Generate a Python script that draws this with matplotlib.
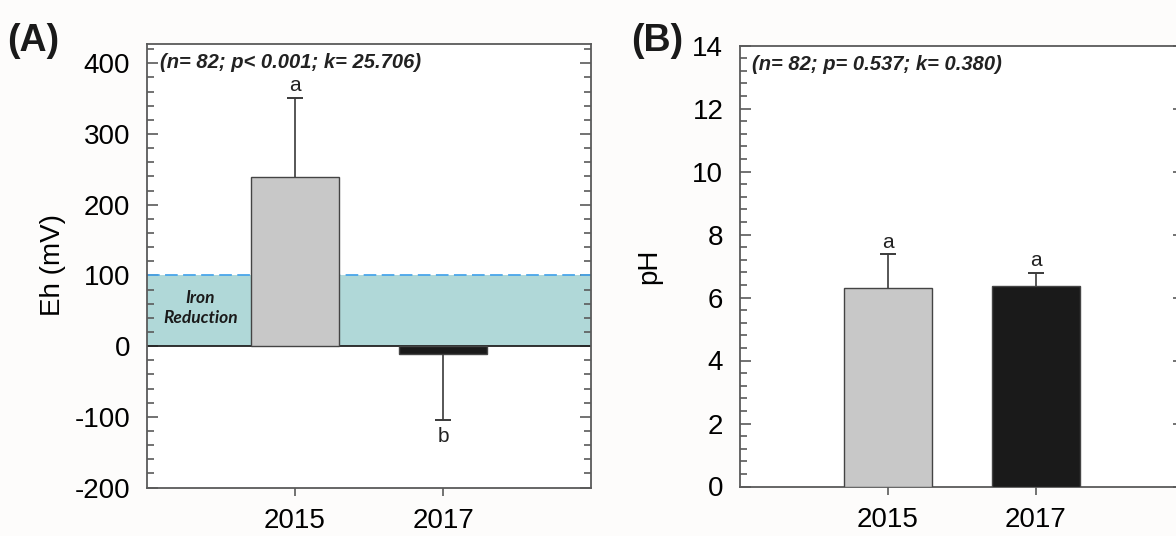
import matplotlib
matplotlib.use("Agg")
from matplotlib import pyplot as plt
from matplotlib.ticker import MultipleLocator

plt.rcParams["font.family"] = ["Liberation Sans", "DejaVu Sans"]
plt.rcParams["axes.unicode_minus"] = False

years = ["2015", "2017"]
bar_colors = ["#c8c8c8", "#1a1a1a"]

# Eh (mV) means and standard deviations
eh_mean = [239, -11]
eh_sd = [112, 94]
eh_letters = ["a", "b"]
eh_stats = "(n= 82; p< 0.001; k= 25.706)"

# pH means and standard deviations
ph_mean = [6.29, 6.38]
ph_sd = [1.08, 0.39]
ph_letters = ["a", "a"]
ph_stats = "(n= 82; p= 0.537; k= 0.380)"

iron_zone = (0, 100)

SPINE = "#5a5a5a"
BG = "#fdfcfb"


def style_axes(ax, major, minor):
    for s in ax.spines.values():
        s.set_color(SPINE)
        s.set_linewidth(1.3)
    ax.yaxis.set_major_locator(MultipleLocator(major))
    ax.yaxis.set_minor_locator(MultipleLocator(minor))
    ax.tick_params(axis="y", which="both", direction="in", left=True, right=True,
                   color=SPINE, width=1.2, labelsize=20, pad=12)
    ax.tick_params(axis="y", which="major", length=8)
    ax.tick_params(axis="y", which="minor", length=5)
    ax.tick_params(axis="x", direction="out", length=6, width=1.2, color=SPINE,
                   labelsize=20, pad=9)
    ax.set_xlim(0, 3)
    ax.set_xticks([1, 2])
    ax.set_xticklabels(years)
    ax.set_facecolor("white")


def draw_bars(ax, means, sds, letters, above_off, below_off):
    x = [1, 2]
    ax.bar(x, means, width=0.6, color=bar_colors, edgecolor="#444444",
           linewidth=1.0, zorder=3)
    for xi, m, sd, lab in zip(x, means, sds, letters):
        # one-sided error bar, pointing away from zero
        end = m + sd if m >= 0 else m - sd
        ax.vlines(xi, m, end, color="#3a3a3a", lw=1.2, zorder=4)
        ax.plot(xi, end, marker="_", markersize=12, mew=1.4, color="#3a3a3a", zorder=4)
        if m >= 0:
            ax.annotate(lab, (xi, end), xytext=(0, above_off), textcoords="offset points",
                        ha="center", va="bottom", fontsize=15, color="#222222")
        else:
            ax.annotate(lab, (xi, end), xytext=(0, -below_off), textcoords="offset points",
                        ha="center", va="top", fontsize=15, color="#222222")


fig = plt.figure(figsize=(11.76, 5.36), dpi=100, facecolor=BG)

# (A) redox potential
ax1 = fig.add_axes([147 / 1176, 48.5 / 536, 444 / 1176, 444 / 536])
style_axes(ax1, 100, 20)
ax1.set_ylim(-200, 428)
ax1.axhspan(iron_zone[0], iron_zone[1], color="#b0d8d8", zorder=1, lw=0)
ax1.axhline(iron_zone[1], color="#4aa6ea", lw=1.3, ls=(0, (7, 3)), zorder=2)
ax1.axhline(0, color="#222222", lw=1.3, zorder=2)
draw_bars(ax1, eh_mean, eh_sd, eh_letters, 2, 5)
ax1.text(0.36, 54, "Iron\nReduction", ha="center", va="center", fontsize=12.5,
         fontstyle="italic", fontweight="bold", family=["Lato", "DejaVu Sans"],
         linespacing=1.25, color="#1a1a1a", zorder=5)
ax1.text(0.03, 0.957, eh_stats, transform=ax1.transAxes, ha="left", va="center",
         fontsize=14.5, fontstyle="italic", fontweight="bold", color="#222222")
ax1.set_ylabel("Eh (mV)", fontsize=20, labelpad=6)

# (B) pH
ax2 = fig.add_axes([740 / 1176, 49.5 / 536, 444 / 1176, 441 / 536])
style_axes(ax2, 2, 0.4)
ax2.set_ylim(0, 14)
draw_bars(ax2, ph_mean, ph_sd, ph_letters, 2, 4)
ax2.text(0.027, 0.958, ph_stats, transform=ax2.transAxes, ha="left", va="center",
         fontsize=14.5, fontstyle="italic", fontweight="bold", color="#222222")
ax2.set_ylabel("pH", fontsize=20, labelpad=22)

fig.text(33 / 1176, 1 - 41 / 536, "(A)", fontsize=27, fontweight="bold",
         ha="center", va="center", color="#1a1a1a")
fig.text(657 / 1176, 1 - 41 / 536, "(B)", fontsize=27, fontweight="bold",
         ha="center", va="center", color="#1a1a1a")

fig.savefig("out.png", dpi=100, facecolor=BG)
